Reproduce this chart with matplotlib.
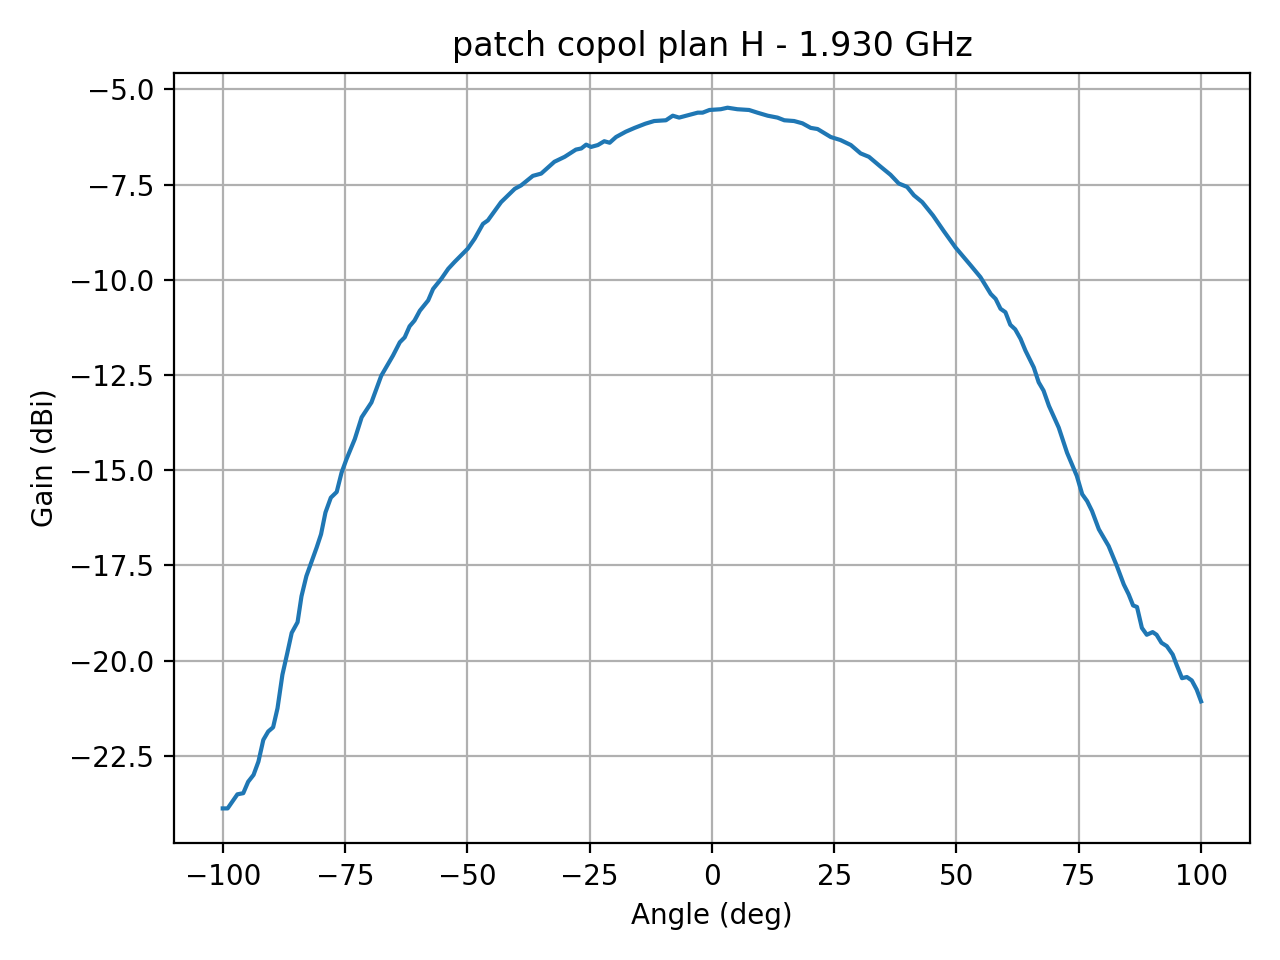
import matplotlib
matplotlib.use("Agg")
import matplotlib.pyplot as plt

# values
angle = [-100, -99, -97, -95.8, -94.8, -93.7, -92.7, -91.7, -90.7, -89.7, -88.8, -87.8,
         -86.8, -85.9, -84.7, -83.9, -82.9, -81.8, -80.8, -79.9, -79.0, -77.9, -76.7,
         -75.7, -74.7, -73.0, -71.6, -69.6, -67.6, -65.2, -63.8, -62.8, -61.8, -60.8,
         -59.7, -58.0, -57.0, -55.3, -53.9, -52.6, -49.9, -48.5, -46.8, -45.8, -43.1,
         -40.3, -39.0, -36.6, -34.9, -32.2, -30.1, -27.8, -26.7, -25.7, -24.7, -23.3,
         -22.0, -20.9, -19.6, -17.6, -15.8, -13.6, -11.8, -9.4, -8.0, -6.7, -2.9, -1.9,
         -0.5, 1.8, 3.2, 5.2, 7.6, 9.3, 11.4, 13.4, 14.8, 16.8, 18.5, 20.2, 21.6, 24.3,
         26.3, 28.4, 30.4, 32.1, 34.5, 36.5, 38.2, 39.9, 41.3, 43.0, 45.2, 47.4, 49.8,
         52.9, 54.9, 57.0, 58.0, 59.0, 60.0, 61.0, 62.0, 63.1, 64.1, 65.8, 66.8, 67.8,
         68.9, 70.9, 72.6, 74.6, 75.7, 76.7, 77.7, 79.1, 81.1, 82.8, 84.2, 85.2, 86.1,
         86.9, 87.9, 88.9, 90.1, 90.9, 91.9, 93.0, 94.2, 95.0, 96.1, 97.1, 98.1, 99.1, 100]
gain = [-23.88, -23.88, -23.51, -23.48, -23.18, -23.00, -22.65, -22.08, -21.86, -21.75,
        -21.25, -20.37, -19.80, -19.27, -18.99, -18.31, -17.78, -17.39, -17.03, -16.68,
        -16.11, -15.72, -15.57, -15.06, -14.71, -14.18, -13.61, -13.22, -12.52, -11.99,
        -11.64, -11.51, -11.22, -11.07, -10.81, -10.54, -10.24, -9.97, -9.71, -9.53,
        -9.18, -8.92, -8.53, -8.44, -7.96, -7.61, -7.52, -7.27, -7.21, -6.90, -6.77,
        -6.58, -6.55, -6.45, -6.51, -6.46, -6.36, -6.40, -6.25, -6.11, -6.01, -5.90,
        -5.83, -5.81, -5.69, -5.74, -5.61, -5.61, -5.54, -5.52, -5.48, -5.52, -5.54,
        -5.61, -5.69, -5.74, -5.81, -5.83, -5.89, -6.01, -6.04, -6.25, -6.33, -6.46,
        -6.68, -6.77, -7.03, -7.24, -7.47, -7.56, -7.78, -7.96, -8.31, -8.72, -9.15,
        -9.62, -9.93, -10.37, -10.50, -10.76, -10.85, -11.18, -11.30, -11.55, -11.86,
        -12.30, -12.69, -12.91, -13.31, -13.88, -14.54, -15.15, -15.63, -15.81, -16.07,
        -16.55, -16.99, -17.52, -18.00, -18.26, -18.55, -18.59, -19.14, -19.32, -19.25,
        -19.32, -19.53, -19.62, -19.84, -20.11, -20.46, -20.43, -20.52, -20.76, -21.07]

freq_label = "1.930 GHz"

fig = plt.figure(figsize=(6.4, 4.8), dpi=200)
plt.plot(angle, gain)
plt.title("patch copol plan H - " + freq_label)
plt.xlabel("Angle (deg)")
plt.ylabel("Gain (dBi)")
plt.grid(True)
plt.tight_layout()
plt.savefig("out.png", dpi=200)
plt.close()
